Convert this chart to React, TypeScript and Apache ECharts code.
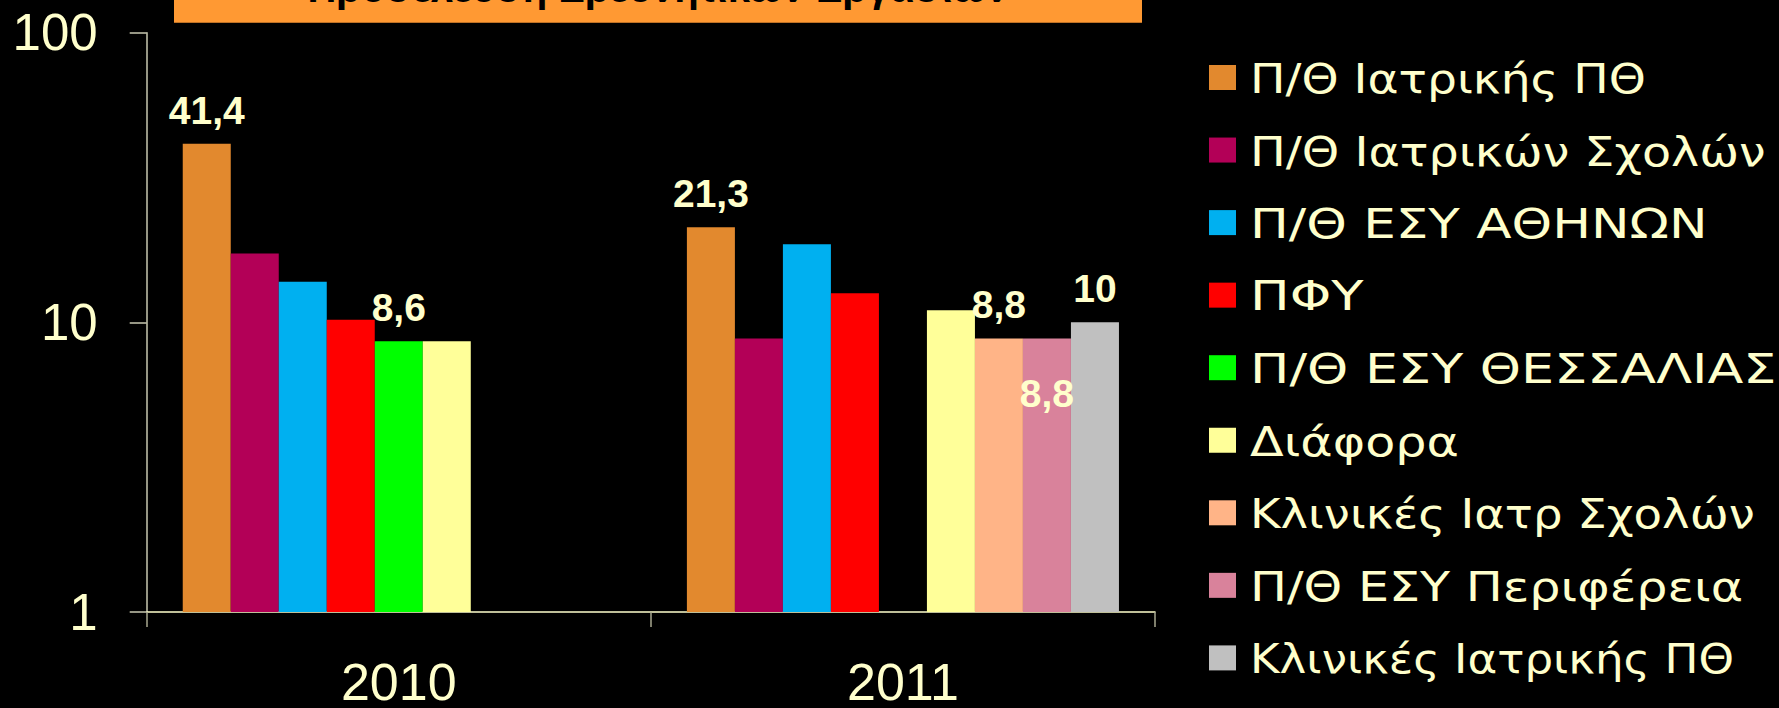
import React, { useEffect, useRef } from 'react';
import * as echarts from 'echarts';

const categories = ['2010', '2011'];
const yTicks = [1, 10, 100];
const titleText = 'Προσέλευση Ερευνητικών Εργασιών';

const seriesNames = [
  'Π/Θ Ιατρικής ΠΘ',
  'Π/Θ Ιατρικών Σχολών',
  'Π/Θ ΕΣΥ ΑΘΗΝΩΝ',
  'ΠΦΥ',
  'Π/Θ ΕΣΥ ΘΕΣΣΑΛΙΑΣ',
  'Διάφορα',
  'Κλινικές Ιατρ Σχολών',
  'Π/Θ ΕΣΥ Περιφέρεια',
  'Κλινικές Ιατρικής ΠΘ',
];
const seriesColors = [
  '#E2892E', '#B30057', '#00B0F0', '#FF0000', '#00FF00',
  '#FFFF99', '#FFB487', '#D9829B', '#C0C0C0',
];
// horizontal stretch of each legend text (the original font is wider)
const legendStretch = [1.18, 1.19, 1.29, 1.32, 1.31, 1.23, 1.165, 1.23, 1.13];

const iatrikisPTH = [41.4, 21.3];
const iatrikonSxolon = [17.3, 8.8];
const esyAthinon = [13.8, 18.6];
const pfy = [10.2, 12.6];
const esyThessalias = [8.6, null];
const diafora = [8.6, 11.0];
const klinikesIatrSxolon = [null, 8.8];
const esyPerifereia = [null, 8.8];
const klinikesIatrikisPTH = [null, 10];

const seriesValues = [
  iatrikisPTH, iatrikonSxolon, esyAthinon, pfy, esyThessalias,
  diafora, klinikesIatrSxolon, esyPerifereia, klinikesIatrikisPTH,
];

// which data points carry a value label, and where
const labelPlacement: (string | null)[][] = [
  ['top', 'top'],
  [null, null],
  [null, null],
  [null, null],
  ['top', null],
  [null, null],
  [null, 'top'],
  [null, 'inside'],
  [null, 'top'],
];

const CREAM = '#FFFFCC';

function fmt(v: number) {
  return String(v).replace('.', ',');
}

export default function App() {
  const ref = useRef<HTMLDivElement>(null);
  useEffect(() => {
    if (!ref.current) return;
    const chart = echarts.init(ref.current, null, { renderer: 'svg' });

    const series = seriesNames.map((name, i) => ({
      name,
      type: 'bar',
      barGap: '0%',
      barCategoryGap: '14.3%',
      itemStyle: { color: seriesColors[i] },
      data: seriesValues[i].map((v, j) => {
        const pos = labelPlacement[i][j];
        if (v === null) return '-';
        if (!pos) return v;
        return {
          value: v,
          label: {
            show: true,
            position: pos === 'inside' ? 'insideTop' : 'top',
            distance: pos === 'inside' ? 36 : 14,
            formatter: (p: any) => fmt(p.value),
            color: CREAM,
            fontSize: 39,
            fontWeight: 'bold',
            fontFamily: 'Liberation Sans',
          },
        };
      }),
    }));

    const legendItems = seriesNames.map((name, i) => ({
      type: 'group',
      x: 1209,
      y: 65 + 72.55 * i,
      children: [
        {
          type: 'rect',
          shape: { x: 0, y: 0, width: 27, height: 25 },
          style: { fill: seriesColors[i] },
        },
        {
          type: 'text',
          x: 41,
          y: 14,
          scaleX: legendStretch[i],
          style: {
            text: name,
            fill: CREAM,
            font: '40px "DejaVu Sans"',
            verticalAlign: 'middle',
            align: 'left',
          },
        },
      ],
    }));

    const option: any = {
      animation: false,
      backgroundColor: '#000000',
      grid: { left: 146.7, right: 624, top: 32.7, bottom: 94.7, containLabel: false },
      xAxis: {
        type: 'category',
        data: categories,
        axisLine: { show: true, lineStyle: { color: CREAM, width: 1.5 } },
        axisTick: { show: true, length: 15, lineStyle: { color: '#A8A890', width: 1.5 } },
        axisLabel: {
          color: CREAM,
          fontSize: 52,
          fontFamily: 'Liberation Sans',
          margin: 44,
        },
        splitLine: { show: false },
      },
      yAxis: {
        type: 'log',
        logBase: 10,
        min: yTicks[0],
        max: yTicks[yTicks.length - 1],
        axisLine: { show: true, lineStyle: { color: '#C8C8B0', width: 1.5 } },
        axisTick: { show: true, length: 17, lineStyle: { color: '#C8C8B0', width: 1.5 } },
        minorTick: { show: false },
        axisLabel: {
          color: CREAM,
          fontSize: 51,
          fontFamily: 'Liberation Sans',
          margin: 49,
          formatter: (v: number) => String(v),
        },
        splitLine: { show: false },
      },
      series,
      graphic: [
        {
          type: 'rect',
          shape: { x: 174, y: -40, width: 968, height: 62.7 },
          style: { fill: '#FF9933' },
        },
        {
          type: 'text',
          x: 658,
          y: 8,
          style: {
            text: titleText,
            fill: '#000000',
            font: 'bold 40px "Liberation Sans"',
            align: 'center',
            verticalAlign: 'bottom',
          },
        },
        ...legendItems,
      ],
    };
    chart.setOption(option);
    return () => chart.dispose();
  }, []);

  return (
    <div
      ref={ref}
      style={{ position: 'fixed', left: 0, top: 0, width: '1779px', height: '708px', background: '#000' }}
    />
  );
}
